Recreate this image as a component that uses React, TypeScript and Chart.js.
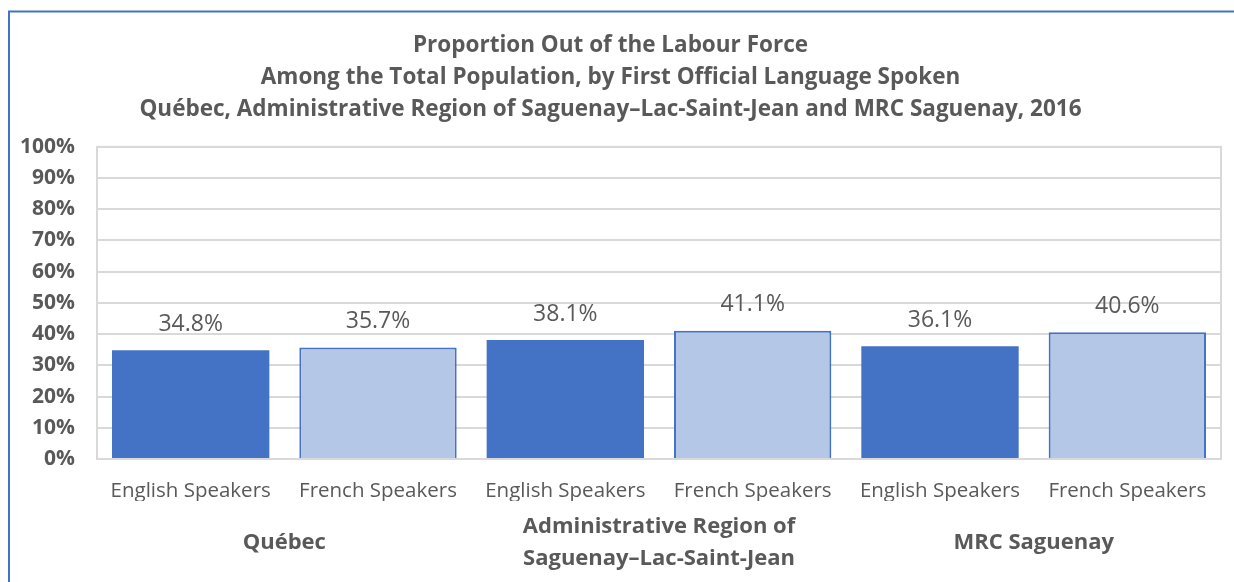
import React, { useEffect, useRef } from "react";
import { Chart, registerables } from "chart.js";

Chart.register(...registerables);

const subLabels = ["English Speakers", "French Speakers", "English Speakers", "French Speakers", "English Speakers", "French Speakers"];
const groupLabels: (string | string[])[] = ["Québec", ["Administrative Region of", "Saguenay–Lac-Saint-Jean"], "MRC Saguenay"];
const values = [34.8, 35.7, 38.1, 41.1, 36.1, 40.6];
const barColors = ["#4472C4", "#B4C7E7", "#4472C4", "#B4C7E7", "#4472C4", "#B4C7E7"];
const titleLines = [
  "Proportion Out of the Labour Force",
  "Among the Total Population, by First Official Language Spoken",
  "Québec, Administrative Region of Saguenay–Lac-Saint-Jean and MRC Saguenay, 2016",
];

const GRAY = "#595959";
const FONT = "'Open Sans', 'Noto Sans', sans-serif";

const framePlugin = {
  id: "frame",
  beforeDraw(chart: any) {
    const ctx = chart.ctx;
    ctx.save();
    ctx.fillStyle = "#ffffff";
    ctx.fillRect(0, 0, chart.width, chart.height);
    ctx.strokeStyle = "#4472C4";
    ctx.lineWidth = 2;
    ctx.beginPath();
    ctx.moveTo(9, chart.height);
    ctx.lineTo(9, 11.5);
    ctx.lineTo(chart.width, 11.5);
    ctx.stroke();
    ctx.restore();
  },
  afterDatasetsDraw(chart: any) {
    const ctx = chart.ctx;
    const a = chart.chartArea;
    ctx.save();
    ctx.strokeStyle = "#D9D9D9";
    ctx.lineWidth = 2;
    ctx.strokeRect(a.left, a.top, a.right - a.left, a.bottom - a.top);
    const meta = chart.getDatasetMeta(0);
    ctx.fillStyle = GRAY;
    ctx.font = `23px ${FONT}`;
    ctx.textAlign = "center";
    ctx.textBaseline = "middle";
    meta.data.forEach((bar: any, i: number) => {
      ctx.fillText(values[i].toFixed(1) + "%", bar.x, bar.y - 26);
    });
    ctx.restore();
  },
};

export default function App() {
  const ref = useRef<HTMLCanvasElement>(null);
  useEffect(() => {
    if (!ref.current) return;
    const chart = new Chart(ref.current, {
      type: "bar",
      data: {
        labels: subLabels,
        datasets: [
          {
            data: values,
            backgroundColor: barColors,
            borderColor: barColors.map((c, i) => (i % 2 === 1 ? "#4472C4" : c)),
            borderWidth: barColors.map((c, i) => (i % 2 === 1 ? 2 : 0)),
            barPercentage: 0.84,
            categoryPercentage: 1,
            xAxisID: "x",
          },
        ],
      },
      options: {
        animation: false,
        responsive: false,
        layout: { padding: { left: 0, right: 13, top: 0, bottom: 9 } },
        plugins: {
          legend: { display: false },
          tooltip: { enabled: false },
          title: {
            display: true,
            text: titleLines,
            color: GRAY,
            font: { family: FONT, size: 22.5, weight: "bold", lineHeight: 1.42 },
            padding: { top: 30, bottom: 21 },
          },
        },
        scales: {
          y: {
            min: 0,
            max: 100,
            ticks: {
              stepSize: 10,
              color: GRAY,
              padding: 22,
              font: { family: FONT, size: 21, weight: "bold" },
              callback: (v: any) => v + "%",
            },
            grid: { color: "#D9D9D9", lineWidth: 2, drawTicks: false },
            border: { display: false },
            afterFit: (axis: any) => {
              axis.width = 97;
            },
          },
          x: {
            position: "bottom",
            ticks: {
              color: GRAY,
              padding: 20,
              maxRotation: 0,
              autoSkip: false,
              font: { family: FONT, size: 20.5 },
            },
            grid: { display: false, drawTicks: false },
            border: { display: false },
            afterFit: (axis: any) => {
              axis.height = 42;
            },
          },
          x2: {
            type: "category",
            position: "bottom",
            labels: groupLabels as any,
            ticks: {
              color: GRAY,
              padding: 26,
              maxRotation: 0,
              autoSkip: false,
              crossAlign: "center",
              font: { family: FONT, size: 22, weight: "bold", lineHeight: 1.43 },
            },
            grid: { display: false, drawTicks: false },
            border: { display: false },
            afterFit: (axis: any) => {
              axis.height = 72;
            },
          },
        },
      },
      plugins: [framePlugin],
    });
    return () => chart.destroy();
  }, []);
  return (
    <div style={{ position: "fixed", left: 0, top: 0, width: 1234, height: 582, background: "#fff" }}>
      <canvas ref={ref} width={1234} height={582} style={{ display: "block", width: 1234, height: 582 }} />
    </div>
  );
}
